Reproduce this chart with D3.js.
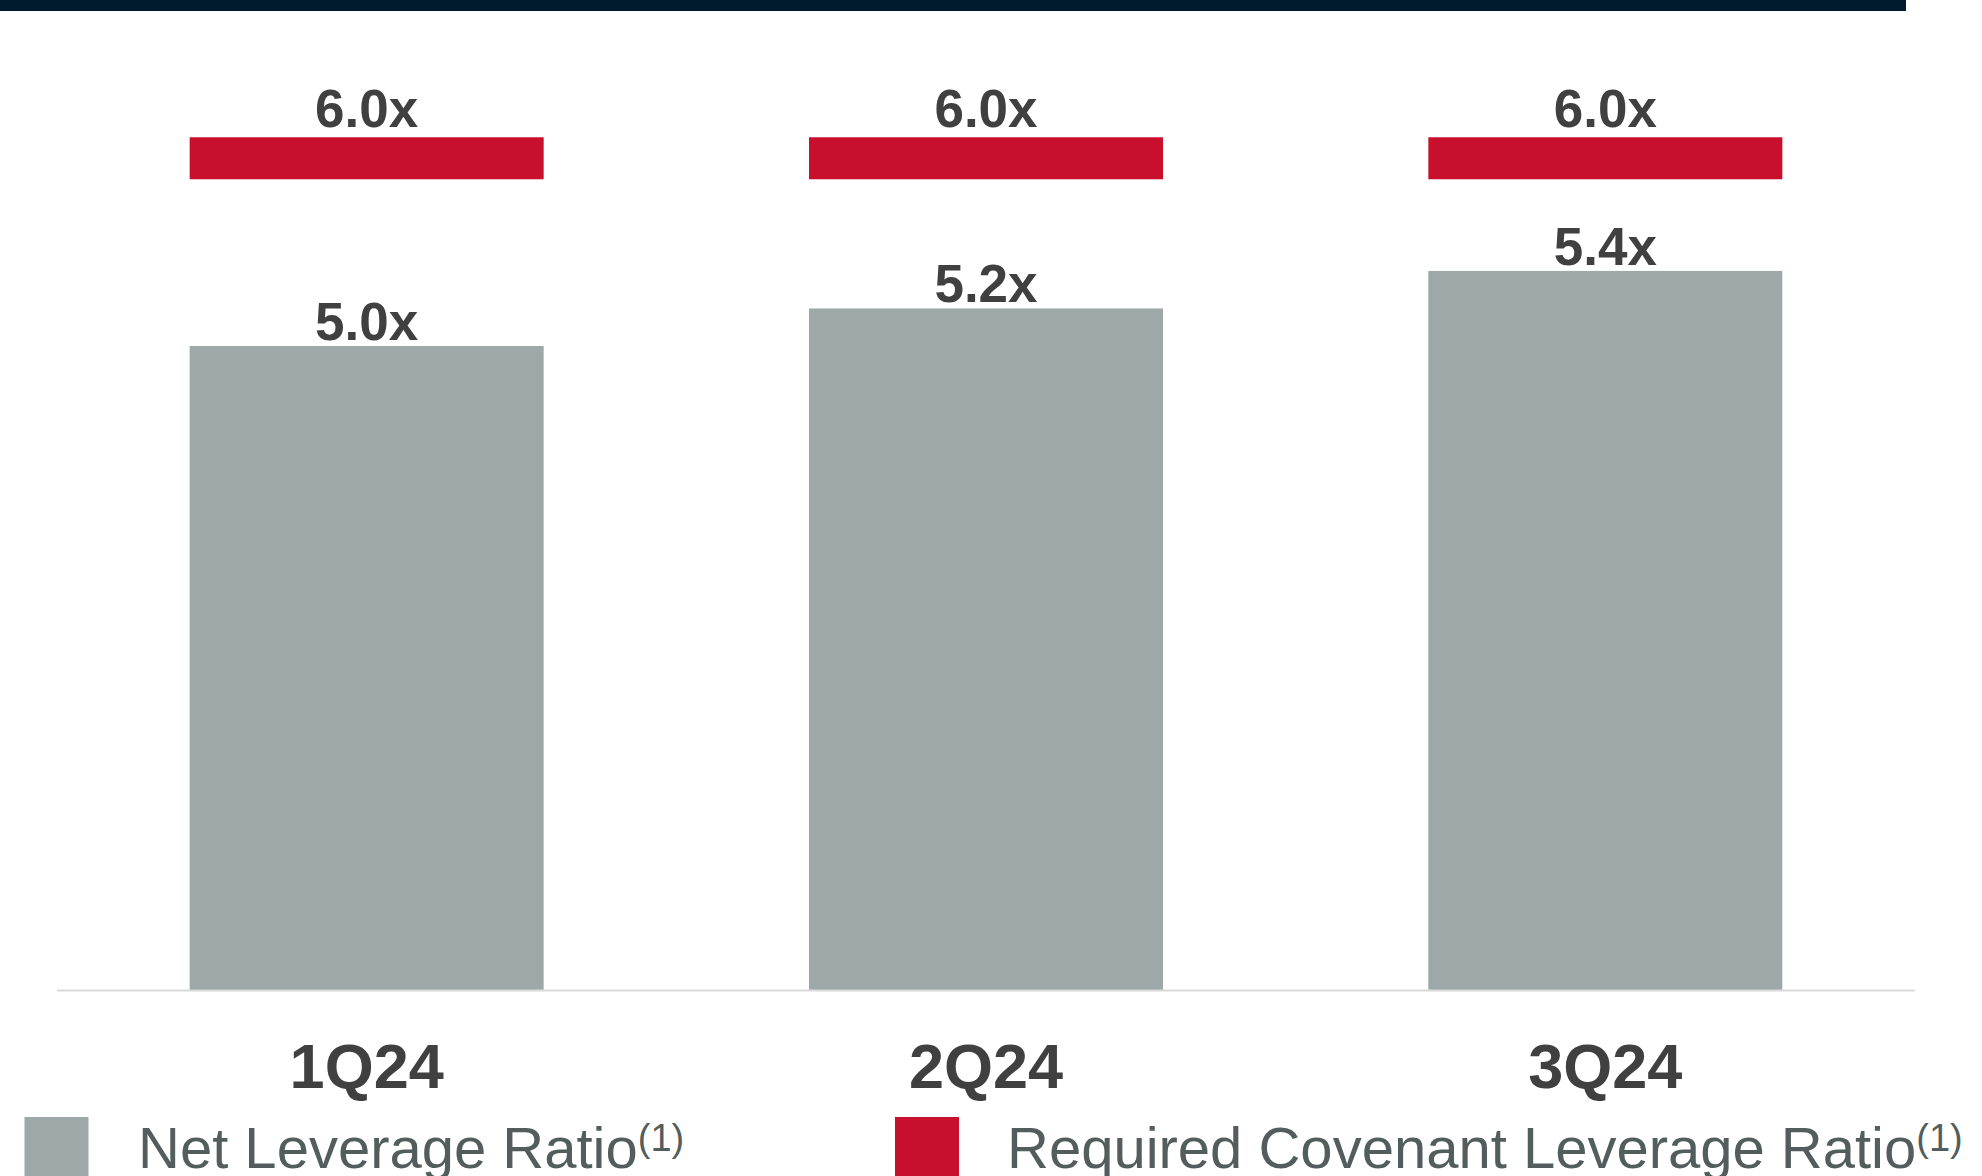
<!DOCTYPE html>
<html>
<head>
<meta charset="utf-8">
<script src="https://cdn.jsdelivr.net/npm/d3@7/dist/d3.min.js"></script>
<style>
  html, body { margin: 0; padding: 0; background: #ffffff; }
  svg { display: block; font-family: "Liberation Sans", Arial, Helvetica, sans-serif; }
</style>
</head>
<body>
<svg id="chart" width="1982" height="1176"></svg>
<script>
// Quarterly leverage data
const quarters = ["1Q24", "2Q24", "3Q24"];
const netLeverage = [5.0, 5.2, 5.4];
const requiredCovenant = [6.0, 6.0, 6.0];
const seriesNames = ["Net Leverage Ratio", "Required Covenant Leverage Ratio"];
const footnote = "(1)";

const W = 1982, H = 1176;
const colors = { net: "#9ea8a8", covenant: "#c8102e", label: "#404040", legend: "#535d5d", header: "#011b2e", axis: "#d9d9d9" };

const svg = d3.select("#chart");

// Header rule across the top
svg.append("rect").attr("x", 0).attr("y", 0).attr("width", 1906).attr("height", 11).attr("fill", colors.header);

const axisY = 990;
const x = d3.scaleBand()
  .domain(quarters)
  .range([57, 1915])
  .paddingInner(0.4284)
  .paddingOuter(0.2142);

// Value axis is hidden; it does not start at zero
const y = d3.scaleLinear()
  .domain([1.57, 6.0])
  .range([axisY, axisY - 187.75 * (6.0 - 1.57)]);

const fmt = v => d3.format(".1f")(v) + "x";

// Net leverage bars
svg.append("g").selectAll("rect")
  .data(quarters)
  .join("rect")
  .attr("x", d => x(d))
  .attr("width", x.bandwidth())
  .attr("y", (d, i) => y(netLeverage[i]))
  .attr("height", (d, i) => axisY - y(netLeverage[i]))
  .attr("fill", colors.net);

svg.append("g").selectAll("text")
  .data(quarters)
  .join("text")
  .attr("x", d => x(d) + x.bandwidth() / 2)
  .attr("y", (d, i) => y(netLeverage[i]) - 6)
  .attr("text-anchor", "middle")
  .attr("font-size", 53)
  .attr("font-weight", "bold")
  .attr("fill", colors.label)
  .text((d, i) => fmt(netLeverage[i]));

// Covenant markers centred on their value
const markerH = 42;
svg.append("g").selectAll("rect")
  .data(quarters)
  .join("rect")
  .attr("x", d => x(d))
  .attr("width", x.bandwidth())
  .attr("y", (d, i) => y(requiredCovenant[i]) - markerH / 2)
  .attr("height", markerH)
  .attr("fill", colors.covenant);

svg.append("g").selectAll("text")
  .data(quarters)
  .join("text")
  .attr("x", d => x(d) + x.bandwidth() / 2)
  .attr("y", (d, i) => y(requiredCovenant[i]) - markerH / 2 - 10)
  .attr("text-anchor", "middle")
  .attr("font-size", 53)
  .attr("font-weight", "bold")
  .attr("fill", colors.label)
  .text((d, i) => fmt(requiredCovenant[i]));

// Category axis
const xAxis = svg.append("g")
  .attr("transform", `translate(0,${axisY})`)
  .call(d3.axisBottom(x).tickSize(0).tickPadding(98));
xAxis.select(".domain").attr("stroke", colors.axis).attr("stroke-width", 2).attr("d", "M57,0.5H1915");
xAxis.selectAll("text")
  .attr("font-size", 63)
  .attr("font-weight", "bold")
  .attr("fill", colors.label)
  .attr("font-family", "'Liberation Sans', Arial, sans-serif")
  .attr("dy", 0);

// Legend
const legendItems = [
  { name: seriesNames[0], color: colors.net, sx: 24.5, tx: 138 },
  { name: seriesNames[1], color: colors.covenant, sx: 895, tx: 1007 }
];
const lg = svg.append("g");
legendItems.forEach(it => {
  lg.append("rect").attr("x", it.sx).attr("y", 1117).attr("width", 64).attr("height", 64).attr("fill", it.color);
  const t = lg.append("text")
    .attr("x", it.tx).attr("y", 1168)
    .attr("font-size", 58)
    .attr("fill", colors.legend);
  t.append("tspan").text(it.name);
  t.append("tspan").attr("font-size", 38).attr("dy", -17).text(footnote);
});
</script>
</body>
</html>
